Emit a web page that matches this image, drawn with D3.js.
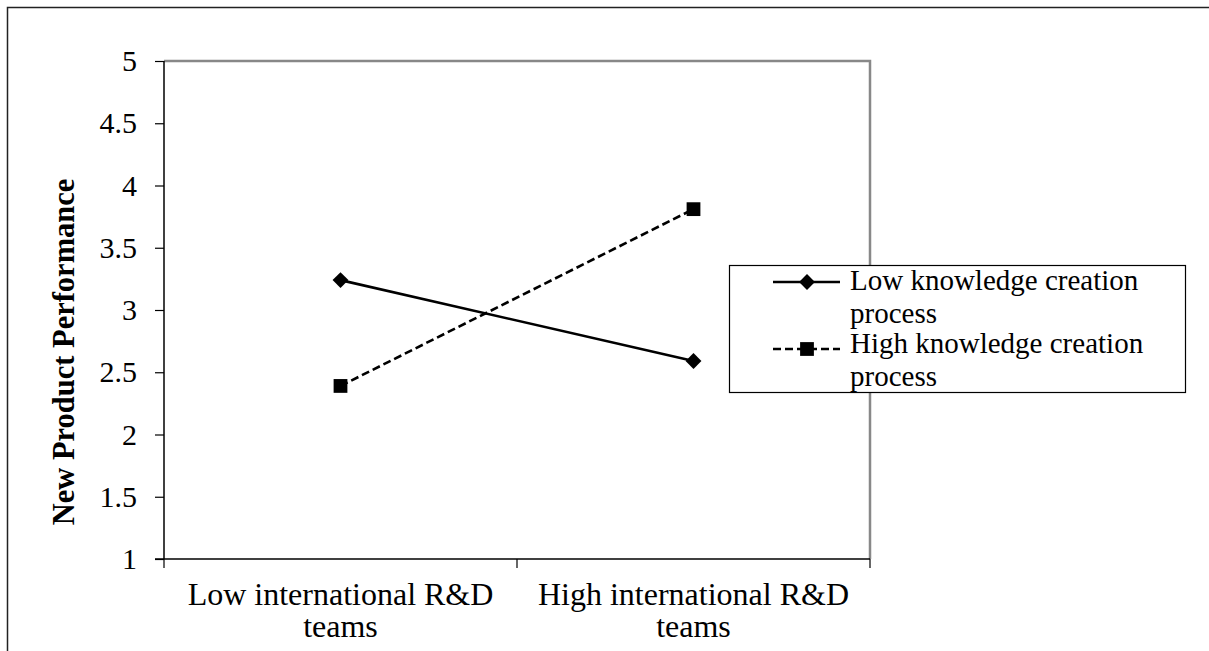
<!DOCTYPE html>
<html>
<head>
<meta charset="utf-8">
<script src="https://cdn.jsdelivr.net/npm/d3@7"></script>
<style>
  body { margin: 0; background: #fff; }
  svg { display: block; font-family: "Liberation Serif", "Times New Roman", serif; }
</style>
</head>
<body>
<svg id="chart" width="1209" height="651"></svg>
<script>
// data
const categories = ["Low international R&D teams", "High international R&D teams"];
const catLines = [["Low international R&D", "teams"], ["High international R&D", "teams"]];
const seriesNames = ["Low knowledge creation process", "High knowledge creation process"];
const seriesLines = [["Low knowledge creation", "process"], ["High knowledge creation", "process"]];
const lowKC = [3.24, 2.59];
const highKC = [2.39, 3.81];
const yTicks = [1, 1.5, 2, 2.5, 3, 3.5, 4, 4.5, 5];

const svg = d3.select("#chart");
const plotL = 164, plotR = 870, plotT = 61, plotB = 559;

// outer frame
svg.append("rect")
  .attr("x", 7.5).attr("y", 7.5)
  .attr("width", 1300).attr("height", 700)
  .attr("fill", "none").attr("stroke", "#222").attr("stroke-width", 1.5);

const x = d3.scaleBand().domain(categories).range([plotL, plotR]).padding(0);
const y = d3.scaleLinear().domain([1, 5]).range([plotB, plotT]);

// plot area border (grey top/right)
svg.append("path")
  .attr("d", `M${plotL},${plotT}H${plotR}V${plotB}`)
  .attr("fill", "none").attr("stroke", "#888").attr("stroke-width", 2.5);

// y axis
const yAxis = svg.append("g")
  .attr("transform", `translate(${plotL},0)`)
  .call(d3.axisLeft(y).tickValues(yTicks).tickSize(9).tickPadding(18).tickFormat(d3.format("")));
yAxis.select(".domain").attr("stroke", "#000").attr("stroke-width", 1.5)
  .attr("d", `M0,${plotT}V${plotB}`);
yAxis.selectAll(".tick line").attr("stroke", "#000").attr("stroke-width", 1.2);
yAxis.selectAll(".tick text")
  .attr("font-family", "Liberation Serif, Times New Roman, serif")
  .attr("font-size", 30).attr("fill", "#000");

// x axis line + ticks at band boundaries
svg.append("line")
  .attr("x1", plotL - 9).attr("x2", plotR)
  .attr("y1", plotB).attr("y2", plotB)
  .attr("stroke", "#000").attr("stroke-width", 1.5);
const bounds = categories.map(c => x(c)).concat([x(categories[categories.length - 1]) + x.bandwidth()]);
bounds.forEach(b => {
  svg.append("line")
    .attr("x1", b).attr("x2", b)
    .attr("y1", plotB).attr("y2", plotB + 9)
    .attr("stroke", "#000").attr("stroke-width", 1.2);
});

// x labels
categories.forEach((c, i) => {
  const t = svg.append("text")
    .attr("text-anchor", "middle")
    .attr("font-size", 32)
    .attr("x", x(c) + x.bandwidth() / 2)
    .attr("y", 605);
  catLines[i].forEach((ln, j) => {
    t.append("tspan").attr("x", x(c) + x.bandwidth() / 2).attr("dy", j === 0 ? 0 : 32).text(ln);
  });
});

// y title
svg.append("text")
  .attr("transform", "translate(74,352) rotate(-90)")
  .attr("text-anchor", "middle")
  .attr("font-size", 30.5)
  .attr("font-weight", "bold")
  .text("New Product Performance");

// series
const cx = c => x(c) + x.bandwidth() / 2;
const line = d3.line().x((d, i) => cx(categories[i])).y(d => y(d));

svg.append("path").datum(lowKC)
  .attr("d", line).attr("fill", "none")
  .attr("stroke", "#000").attr("stroke-width", 2.6);
svg.append("path").datum(highKC)
  .attr("d", line).attr("fill", "none")
  .attr("stroke", "#000").attr("stroke-width", 2.6)
  .attr("stroke-dasharray", "8,4");

const diamond = d3.symbol().type(d3.symbolDiamond2).size(160);
const square = d3.symbol().type(d3.symbolSquare).size(190);

svg.selectAll(".mlow").data(lowKC).enter().append("path")
  .attr("d", diamond)
  .attr("transform", (d, i) => `translate(${cx(categories[i])},${y(d)})`)
  .attr("fill", "#000");
svg.selectAll(".mhigh").data(highKC).enter().append("path")
  .attr("d", square)
  .attr("transform", (d, i) => `translate(${cx(categories[i])},${y(d)})`)
  .attr("fill", "#000");

// legend
svg.append("rect")
  .attr("x", 729.5).attr("y", 265.5)
  .attr("width", 456).attr("height", 127)
  .attr("fill", "#fff").attr("stroke", "#000").attr("stroke-width", 1.2);

const legendY = [282, 349];
const legendText = [290, 353];
seriesNames.forEach((s, i) => {
  const g = svg.append("g");
  g.append("line")
    .attr("x1", 773).attr("x2", 840)
    .attr("y1", legendY[i]).attr("y2", legendY[i])
    .attr("stroke", "#000").attr("stroke-width", 2.6)
    .attr("stroke-dasharray", i === 1 ? "8,4" : null);
  g.append("path")
    .attr("d", i === 0 ? diamond : square)
    .attr("transform", `translate(807,${legendY[i]})`)
    .attr("fill", "#000");
  const t = g.append("text").attr("font-size", 29).attr("x", 850).attr("y", legendText[i]);
  seriesLines[i].forEach((ln, j) => {
    t.append("tspan").attr("x", 850).attr("dy", j === 0 ? 0 : 33).text(ln);
  });
});
</script>
</body>
</html>
